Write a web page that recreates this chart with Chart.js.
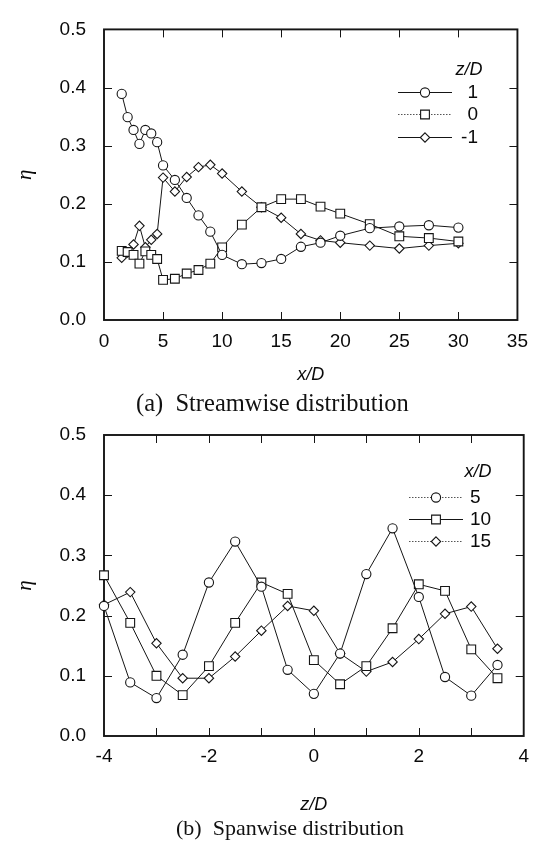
<!DOCTYPE html>
<html><head><meta charset="utf-8">
<script src="https://cdn.jsdelivr.net/npm/chart.js@4.4.0/dist/chart.umd.min.js"></script>
<style>
html,body{margin:0;padding:0;background:#fff;width:538px;height:844px;overflow:hidden;}
canvas{position:absolute;left:0;}
.cap{position:absolute;font-family:"Liberation Serif","Times New Roman",serif;color:#111;white-space:pre;line-height:1;}
</style></head><body>
<canvas id="c1" width="538" height="390" style="top:0px;width:538px;height:390px"></canvas>
<canvas id="c2" width="538" height="430" style="top:390px;width:538px;height:430px"></canvas>
<div class="cap" style="left:136px;top:391px;font-size:24.5px">(a)  Streamwise distribution</div>
<div class="cap" style="left:176px;top:817px;font-size:22px">(b)  Spanwise distribution</div>
<script>
// ---- Data: (a) streamwise distribution ----
const xD = [1.5,2,2.5,3,3.5,4,4.5,5,6,7,8,9,10,11.67,13.33,15,16.67,18.33,20,22.5,25,27.5,30];
const etaZ1  = [0.389,0.349,0.327,0.303,0.327,0.321,0.306,0.266,0.241,0.210,0.180,0.152,0.112,0.096,0.098,0.105,0.126,0.133,0.145,0.158,0.161,0.163,0.159];
const etaZ0  = [0.119,0.117,0.112,0.097,0.118,0.112,0.105,0.069,0.071,0.080,0.086,0.097,0.125,0.164,0.194,0.208,0.208,0.195,0.183,0.165,0.144,0.141,0.135];
const etaZm1 = [0.107,0.116,0.130,0.162,0.125,0.138,0.148,0.245,0.221,0.246,0.263,0.267,0.252,0.221,0.194,0.176,0.148,0.137,0.133,0.128,0.123,0.128,0.132];
const seriesA = ['1','0','-1'];

// ---- Data: (b) spanwise distribution ----
const zD = [-4,-3.5,-3,-2.5,-2,-1.5,-1,-0.5,0,0.5,1,1.5,2,2.5,3,3.5];
const etaX5  = [0.216,0.089,0.063,0.135,0.255,0.323,0.248,0.110,0.070,0.137,0.269,0.345,0.231,0.098,0.067,0.118];
const etaX10 = [0.267,0.188,0.100,0.068,0.116,0.188,0.255,0.236,0.126,0.086,0.116,0.179,0.252,0.241,0.144,0.096];
const etaX15 = [0.218,0.239,0.154,0.096,0.096,0.132,0.175,0.216,0.208,0.137,0.107,0.123,0.161,0.203,0.215,0.145];
const seriesB = ['5','10','15'];

// ---- Axis ticks ----
const etaTicks = [0,0.1,0.2,0.3,0.4,0.5];
const xTicksA = [0,5,10,15,20,25,30,35];
const zTicksB = [-4,-2,0,2,4];

const INK = '#151515';
Chart.defaults.font.family = "'Liberation Sans', Arial, sans-serif";
Chart.defaults.color = '#0a0a0a';

const STYLES = [
  {pointStyle:'circle', pointRadius:4.6},
  {pointStyle:'rect', pointRadius:6.2},
  {pointStyle:'rectRot', pointRadius:4.7}
];

function ds(xs, ys, k){
  return Object.assign({
    data: xs.map((x,i)=>({x:x, y:ys[i]})),
    showLine: true, borderColor: INK, borderWidth: 1,
    pointBackgroundColor: '#fff', pointBorderColor: INK, pointBorderWidth: 1.1,
    clip: false
  }, STYLES[k]);
}

function drawMarker(ctx, k, x, y){
  ctx.save();
  ctx.fillStyle = '#fff'; ctx.strokeStyle = INK; ctx.lineWidth = 1.1;
  ctx.beginPath();
  if (k === 0) { ctx.arc(x, y, 4.6, 0, Math.PI*2); }
  else if (k === 1) { const s = 6.2*Math.SQRT1_2; ctx.rect(x-s, y-s, 2*s, 2*s); }
  else { const r = 4.7; ctx.moveTo(x, y-r); ctx.lineTo(x+r, y); ctx.lineTo(x, y+r); ctx.lineTo(x-r, y); ctx.closePath(); }
  ctx.fill(); ctx.stroke();
  ctx.restore();
}

const framePlugin = {
  id: 'frame',
  beforeDatasetsDraw(chart){
    const {ctx, chartArea: a, scales} = chart;
    ctx.save();
    ctx.strokeStyle = INK;
    ctx.lineWidth = 1;
    const L = 8;
    scales.x.ticks.forEach(t => {
      const p = Math.round(scales.x.getPixelForValue(t.value)) + 0.5;
      if (Math.abs(p - a.left) < 2 || Math.abs(p - a.right) < 2) return;
      ctx.beginPath(); ctx.moveTo(p, a.bottom); ctx.lineTo(p, a.bottom - L);
      ctx.moveTo(p, a.top); ctx.lineTo(p, a.top + L); ctx.stroke();
    });
    scales.y.ticks.forEach(t => {
      const p = Math.round(scales.y.getPixelForValue(t.value)) + 0.5;
      if (Math.abs(p - a.top) < 2 || Math.abs(p - a.bottom) < 2) return;
      ctx.beginPath(); ctx.moveTo(a.left, p); ctx.lineTo(a.left + L, p);
      ctx.moveTo(a.right, p); ctx.lineTo(a.right - L, p); ctx.stroke();
    });
    ctx.lineWidth = 1.9;
    ctx.strokeRect(a.left, a.top, a.right - a.left, a.bottom - a.top);
    ctx.restore();
  }
};

const legendPlugin = {
  id: 'lineLegend',
  afterDraw(chart, args, o){
    if (!o || !o.items) return;
    const ctx = chart.ctx;
    ctx.save();
    ctx.fillStyle = '#0a0a0a';
    ctx.font = "italic 18px 'Liberation Sans', Arial, sans-serif";
    ctx.textAlign = 'center'; ctx.textBaseline = 'middle';
    ctx.fillText(o.title, o.titleX, o.titleY);
    ctx.font = "19px 'Liberation Sans', Arial, sans-serif";
    o.items.forEach((it, k) => {
      const y = o.ys[k];
      ctx.save();
      ctx.strokeStyle = it.dash ? '#555' : INK;
      ctx.lineWidth = 1;
      ctx.setLineDash(it.dash ? [1.5,1.5] : []);
      ctx.beginPath(); ctx.moveTo(o.x0, y + 0.5); ctx.lineTo(o.x1, y + 0.5); ctx.stroke();
      ctx.restore();
      drawMarker(ctx, k, (o.x0 + o.x1) / 2, y + 0.5);
      ctx.textAlign = o.textAlign;
      ctx.fillText(it.label, o.textX, y + 1);
    });
    ctx.restore();
  }
};

function yScale(){
  return {
    type: 'linear', min: 0, max: 0.5,
    afterBuildTicks(s){ s.ticks = etaTicks.map(v => ({value: v})); },
    ticks: { callback: v => Number(v).toFixed(1), font: {size: 19}, padding: 18 },
    grid: { display: false, drawTicks: false }, border: { display: false },
    title: { display: true, text: 'η', font: {family: "'Liberation Serif', 'Times New Roman', serif", size: 21, style: 'italic'}, padding: {top: 13, bottom: 0} },
    afterFit(s){ s.width = 104; }
  };
}

new Chart(document.getElementById('c1'), {
  type: 'scatter',
  data: { datasets: [ ds(xD, etaZ1, 0), ds(xD, etaZ0, 1), ds(xD, etaZm1, 2) ] },
  options: {
    responsive: false, animation: false, devicePixelRatio: 1,
    layout: { padding: { left: 0, top: 19, right: 11, bottom: 0 } },
    plugins: {
      legend: { display: false }, tooltip: { enabled: false },
      lineLegend: {
        title: 'z/D', titleX: 469, titleY: 70,
        x0: 398, x1: 452, textX: 478, textAlign: 'right',
        ys: [92, 114, 137],
        items: [ {label: seriesA[0]}, {label: seriesA[1], dash: true}, {label: seriesA[2]} ]
      }
    },
    scales: {
      x: {
        type: 'linear', min: 0, max: 35,
        afterBuildTicks(s){ s.ticks = xTicksA.map(v => ({value: v})); },
        ticks: { font: {size: 19}, padding: 10, maxRotation: 0 },
        grid: { display: false, drawTicks: false }, border: { display: false },
        title: { display: true, text: 'x/D', font: {size: 18, style: 'italic'}, padding: {top: 0, bottom: 4} },
        afterFit(s){ s.height = 70; }
      },
      y: yScale()
    }
  },
  plugins: [framePlugin, legendPlugin]
});

new Chart(document.getElementById('c2'), {
  type: 'scatter',
  data: { datasets: [ ds(zD, etaX5, 0), ds(zD, etaX10, 1), ds(zD, etaX15, 2) ] },
  options: {
    responsive: false, animation: false, devicePixelRatio: 1,
    layout: { padding: { left: 0, top: 45, right: 8, bottom: 0 } },
    plugins: {
      legend: { display: false }, tooltip: { enabled: false },
      lineLegend: {
        title: 'x/D', titleX: 478, titleY: 81.7,
        x0: 409, x1: 463, textX: 470, textAlign: 'left',
        ys: [107, 129, 151],
        items: [ {label: seriesB[0], dash: true}, {label: seriesB[1]}, {label: seriesB[2], dash: true} ]
      }
    },
    scales: {
      x: {
        type: 'linear', min: -4, max: 4,
        ticks: { stepSize: 1, font: {size: 19}, padding: 9, maxRotation: 0, autoSkip: false,
          callback: v => zTicksB.includes(v) ? String(v) : '' },
        grid: { display: false, drawTicks: false }, border: { display: false },
        title: { display: true, text: 'z/D', font: {size: 18, style: 'italic'}, padding: {top: 0, bottom: 4} },
        afterFit(s){ s.height = 84; }
      },
      y: yScale()
    }
  },
  plugins: [framePlugin, legendPlugin]
});
</script>
</body></html>
